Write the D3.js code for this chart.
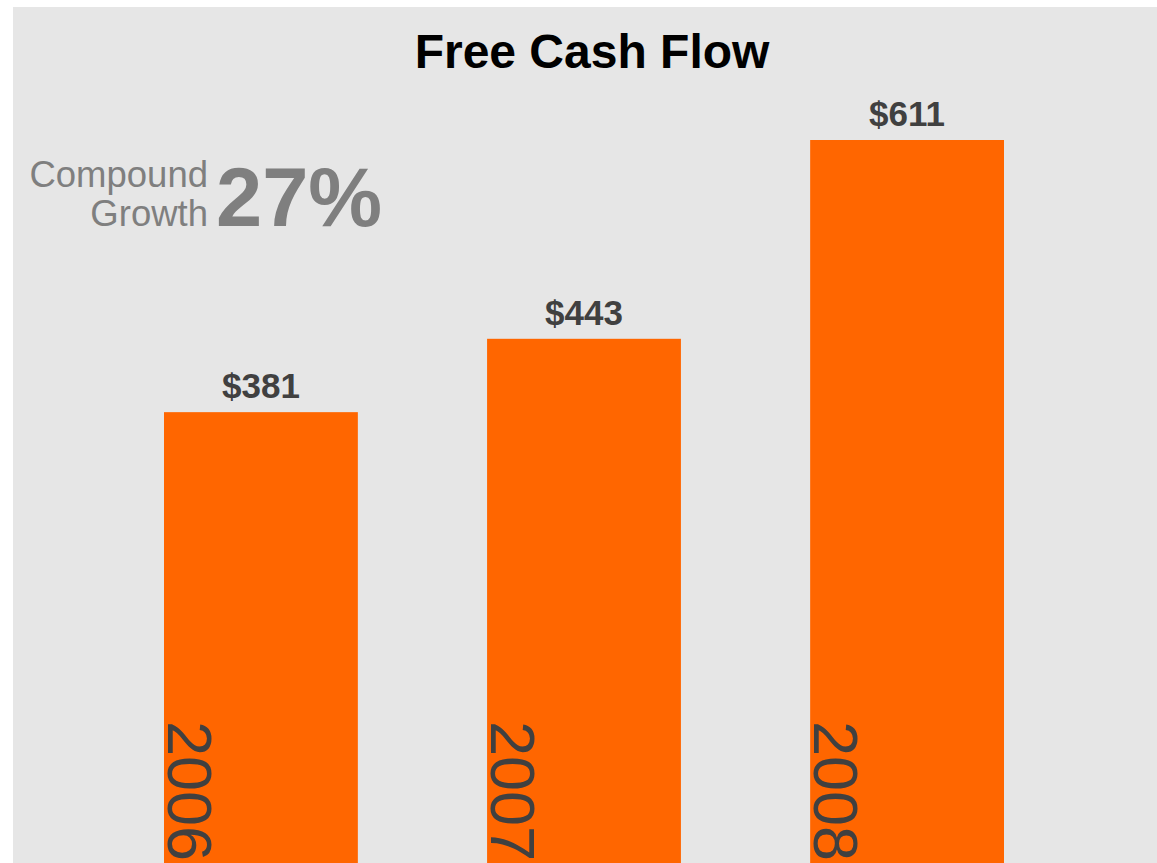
<!DOCTYPE html>
<html>
<head>
<meta charset="utf-8">
<script src="https://cdn.jsdelivr.net/npm/d3@7"></script>
<style>
  html, body { margin: 0; padding: 0; background: #ffffff; }
  svg { display: block; font-family: "Liberation Sans", Arial, sans-serif; }
</style>
</head>
<body>
<div id="chart"></div>
<script>
// chart data
var years = ["2006", "2007", "2008"];
var cashFlow = [381, 443, 611];
var valueLabels = ["$381", "$443", "$611"];
var growthText = ["Compound", "Growth"];
var growthValue = "27%";

var width = 1157;
var height = 863;

var svg = d3.select("#chart").append("svg")
    .attr("width", width)
    .attr("height", height);

    // grey panel behind the chart
svg.append("rect")
    .attr("x", 13)
    .attr("y", 7)
    .attr("width", width - 13)
    .attr("height", height - 7)
    .style("fill", "#e6e6e6");

var x = d3.scaleBand()
    .domain(years)
    .range([164, 1004])
    .paddingInner(0.4)
    .paddingOuter(0);

var y = d3.scaleLinear()
    .domain([0, 611])
    .range([863, 140]);

    // title
svg.append("text")
    .attr("x", 592)
    .attr("y", 68)
    .attr("text-anchor", "middle")
    .style("font-size", "48px")
    .style("font-weight", "bold")
    .style("fill", "#000000")
    .text("Free Cash Flow");

    // bars
svg.selectAll("rect.bar")
    .data(years)
    .enter().append("rect")
    .attr("class", "bar")
    .attr("x", function(d) { return x(d); })
    .attr("y", function(d, i) { return y(cashFlow[i]); })
    .attr("width", x.bandwidth())
    .attr("height", function(d, i) { return y(0) - y(cashFlow[i]); })
    .style("fill", "#ff6600");

    // value labels above bars
svg.selectAll("text.value")
    .data(years)
    .enter().append("text")
    .attr("class", "value")
    .attr("x", function(d) { return x(d) + x.bandwidth() / 2; })
    .attr("y", function(d, i) { return y(cashFlow[i]) - 14; })
    .attr("text-anchor", "middle")
    .style("font-size", "35px")
    .style("font-weight", "bold")
    .style("fill", "#404040")
    .text(function(d, i) { return valueLabels[i]; });

    // year labels, rotated inside the bars
svg.selectAll("text.year")
    .data(years)
    .enter().append("text")
    .attr("class", "year")
    .attr("transform", function(d) {
        return "translate(" + (x(d) + 4) + ",721) rotate(90)";
    })
    .style("font-size", "63px")
    .style("fill", "#404040")
    .text(function(d) { return d; });

    // compound growth note
var note = svg.append("text")
    .attr("text-anchor", "end")
    .style("font-size", "36.5px")
    .style("fill", "#7f7f7f");

note.selectAll("tspan")
    .data(growthText)
    .enter().append("tspan")
    .attr("x", 208)
    .attr("y", function(d, i) { return 187 + i * 39; })
    .text(function(d) { return d; });

svg.append("text")
    .attr("x", 216)
    .attr("y", 226)
    .style("font-size", "83px")
    .style("font-weight", "bold")
    .style("fill", "#7f7f7f")
    .text(growthValue);
</script>
</body>
</html>
